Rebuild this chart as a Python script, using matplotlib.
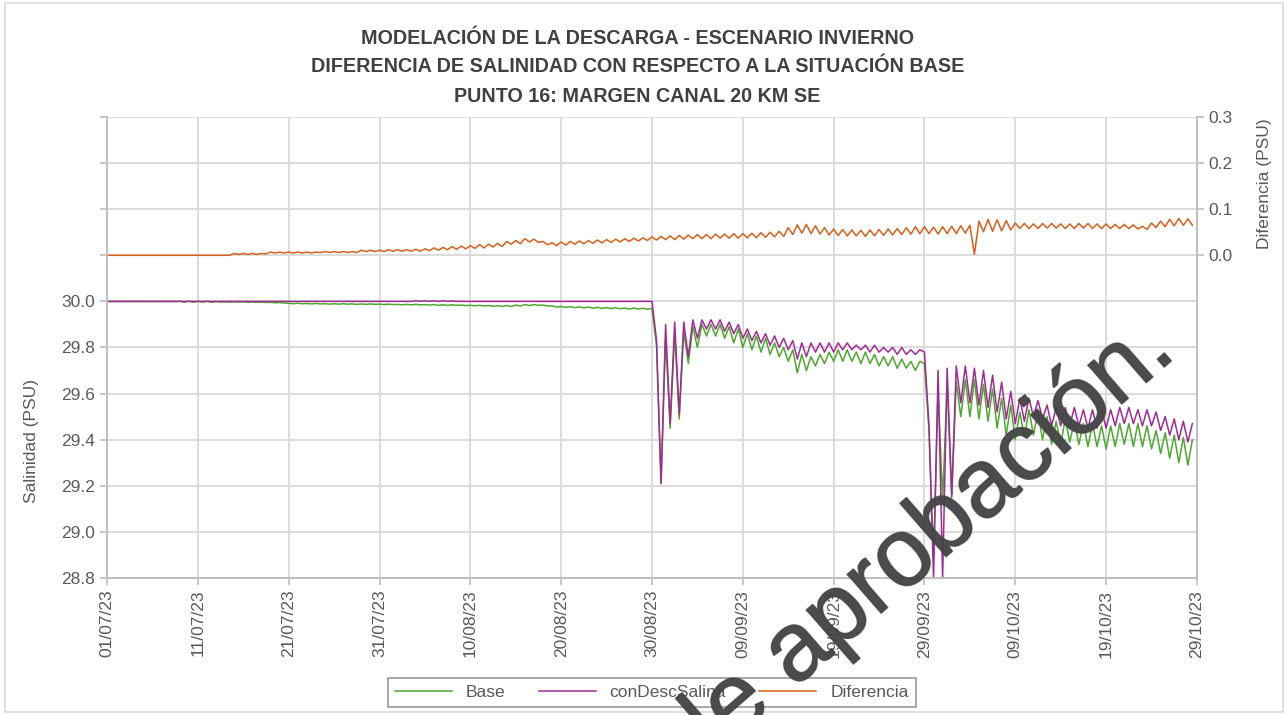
import pandas as pd
import matplotlib.pyplot as plt
import matplotlib.dates as mdates
import matplotlib.patheffects as pe
from matplotlib.patches import Rectangle

plt.rcParams['font.family'] = ['Liberation Sans', 'DejaVu Sans']

# Serie cada 12 h desde 01/07/23 (PSU)
inicio = '2023-07-01'

base = [
    30.000, 29.999, 30.000, 29.999, 30.000, 29.999, 30.000, 29.999, 30.000, 29.999, 30.000, 29.999, 30.000, 29.999, 30.000, 29.999, 30.001, 29.996, 30.001, 29.996,
    30.001, 29.996, 30.001, 29.996, 29.999, 29.997, 29.998, 29.997, 29.998, 29.997, 29.998, 29.996, 29.998, 29.996, 29.997, 29.995, 29.996, 29.994, 29.995, 29.993,
    29.992, 29.990, 29.992, 29.990, 29.991, 29.989, 29.991, 29.989, 29.990, 29.988, 29.990, 29.988, 29.990, 29.988, 29.989, 29.987, 29.989, 29.987, 29.989, 29.987,
    29.988, 29.986, 29.988, 29.986, 29.987, 29.985, 29.987, 29.985, 29.987, 29.985, 29.986, 29.984, 29.986, 29.983, 29.985, 29.983, 29.985, 29.983, 29.984, 29.982,
    29.983, 29.981, 29.983, 29.980, 29.982, 29.979, 29.981, 29.978, 29.982, 29.978, 29.984, 29.980, 29.986, 29.982, 29.986, 29.983, 29.984, 29.980, 29.980, 29.976,
    29.978, 29.974, 29.977, 29.973, 29.976, 29.972, 29.975, 29.971, 29.974, 29.970, 29.973, 29.969, 29.972, 29.968, 29.971, 29.967, 29.971, 29.967, 29.970, 29.966,
    29.97, 29.81, 29.21, 29.84, 29.45, 29.86, 29.49, 29.87, 29.73, 29.89,
    29.80, 29.90, 29.85, 29.90, 29.85, 29.90, 29.84, 29.89, 29.82, 29.88,
    29.80, 29.86, 29.79, 29.85, 29.78, 29.84, 29.77, 29.82, 29.76, 29.80,
    29.74, 29.79, 29.69, 29.77, 29.70, 29.76, 29.72, 29.77, 29.73, 29.78,
    29.74, 29.79, 29.74, 29.79, 29.74, 29.78, 29.73, 29.78, 29.73, 29.77,
    29.72, 29.76, 29.72, 29.76, 29.71, 29.75, 29.71, 29.74, 29.70, 29.74,
    29.73, 29.44, 28.89, 29.62, 29.14, 29.64, 29.16, 29.65, 29.50, 29.66,
    29.50, 29.66, 29.49, 29.64, 29.48, 29.62, 29.45, 29.58, 29.42, 29.55,
    29.40, 29.52, 29.41, 29.53, 29.42, 29.52, 29.40, 29.50, 29.38, 29.48,
    29.38, 29.49, 29.39, 29.48, 29.38, 29.47, 29.37, 29.47, 29.37, 29.46,
    29.36, 29.46, 29.37, 29.47, 29.38, 29.47, 29.37, 29.47, 29.37, 29.46,
    29.36, 29.44, 29.34, 29.43, 29.32, 29.42, 29.30, 29.41, 29.29, 29.40,
]

con_desc = [
    30.000, 30.000, 30.000, 30.000, 30.000, 30.000, 30.000, 30.000, 30.000, 30.000, 30.000, 30.000, 30.000, 30.000, 30.000, 30.000, 30.000, 30.000, 30.000, 30.000,
    30.000, 30.000, 30.000, 30.000, 30.000, 30.000, 30.000, 30.000, 30.000, 30.000, 30.000, 30.000, 30.000, 30.000, 30.000, 30.000, 30.000, 30.000, 30.000, 30.000,
    30.000, 30.000, 30.000, 30.000, 30.000, 30.000, 30.000, 30.000, 30.000, 30.000, 30.000, 30.000, 30.000, 30.000, 30.000, 30.000, 30.000, 30.000, 30.000, 30.000,
    30.000, 30.000, 30.000, 30.000, 30.000, 30.000, 30.000, 30.000, 30.003, 30.000, 30.003, 30.000, 30.003, 30.000, 30.003, 30.000, 30.002, 30.000, 30.000, 30.000,
    30.000, 30.000, 30.000, 30.000, 30.000, 30.000, 30.000, 30.000, 30.000, 30.000, 30.000, 30.000, 30.000, 30.000, 30.000, 30.000, 30.000, 30.000, 30.000, 30.000,
    30.000, 30.000, 30.000, 30.000, 30.000, 30.000, 30.000, 30.000, 30.000, 30.000, 30.000, 30.000, 30.000, 30.000, 30.000, 30.000, 30.000, 30.000, 30.000, 30.000,
    30.00, 29.83, 29.21, 29.90, 29.47, 29.91, 29.51, 29.91, 29.76, 29.92,
    29.84, 29.92, 29.88, 29.92, 29.88, 29.92, 29.87, 29.91, 29.86, 29.90,
    29.84, 29.88, 29.83, 29.87, 29.82, 29.86, 29.81, 29.85, 29.80, 29.84,
    29.79, 29.83, 29.75, 29.82, 29.76, 29.82, 29.78, 29.82, 29.78, 29.82,
    29.78, 29.82, 29.79, 29.82, 29.79, 29.81, 29.79, 29.81, 29.78, 29.81,
    29.78, 29.80, 29.78, 29.80, 29.77, 29.80, 29.77, 29.79, 29.77, 29.79,
    29.78, 29.46, 28.80, 29.70, 28.80, 29.71, 29.15, 29.72, 29.56, 29.72,
    29.56, 29.71, 29.55, 29.70, 29.54, 29.68, 29.52, 29.65, 29.49, 29.61,
    29.47, 29.58, 29.48, 29.58, 29.50, 29.57, 29.49, 29.55, 29.46, 29.54,
    29.46, 29.54, 29.46, 29.54, 29.46, 29.53, 29.45, 29.53, 29.45, 29.53,
    29.45, 29.53, 29.46, 29.54, 29.47, 29.54, 29.47, 29.53, 29.46, 29.53,
    29.46, 29.52, 29.44, 29.50, 29.42, 29.49, 29.40, 29.48, 29.39, 29.47,
]

diferencia = [
    0.000, 0.000, 0.000, 0.000, 0.000, 0.000, 0.000, 0.000, 0.000, 0.000, 0.000, 0.000, 0.000, 0.000, 0.000, 0.000, 0.000, 0.000, 0.000, 0.000,
    0.000, 0.000, 0.000, 0.000, 0.000, 0.000, 0.000, 0.000, 0.004, 0.002, 0.004, 0.002, 0.004, 0.002, 0.004, 0.003, 0.007, 0.005, 0.007, 0.005,
    0.007, 0.005, 0.007, 0.005, 0.007, 0.005, 0.007, 0.006, 0.008, 0.006, 0.008, 0.006, 0.008, 0.006, 0.008, 0.006, 0.011, 0.008, 0.011, 0.008,
    0.011, 0.008, 0.012, 0.009, 0.012, 0.009, 0.012, 0.009, 0.013, 0.009, 0.014, 0.010, 0.016, 0.011, 0.017, 0.012, 0.019, 0.013, 0.020, 0.014,
    0.021, 0.015, 0.023, 0.016, 0.024, 0.018, 0.026, 0.019, 0.030, 0.024, 0.032, 0.025, 0.036, 0.029, 0.035, 0.028, 0.030, 0.023, 0.027, 0.021,
    0.029, 0.022, 0.030, 0.024, 0.031, 0.025, 0.032, 0.026, 0.033, 0.027, 0.034, 0.028, 0.035, 0.029, 0.036, 0.030, 0.037, 0.031, 0.038, 0.032,
    0.040, 0.033, 0.041, 0.034, 0.042, 0.034, 0.043, 0.035, 0.044, 0.036, 0.045, 0.036, 0.045, 0.036, 0.046, 0.037, 0.046, 0.037, 0.047, 0.037,
    0.047, 0.038, 0.048, 0.038, 0.049, 0.039, 0.050, 0.040, 0.052, 0.041, 0.060, 0.045, 0.066, 0.048, 0.067, 0.047, 0.064, 0.046, 0.060, 0.044,
    0.057, 0.043, 0.056, 0.042, 0.055, 0.042, 0.054, 0.041, 0.055, 0.042, 0.056, 0.043, 0.057, 0.044, 0.058, 0.045, 0.060, 0.046, 0.062, 0.047,
    0.062, 0.047, 0.061, 0.046, 0.062, 0.047, 0.063, 0.047, 0.064, 0.048, 0.065, 0.002, 0.074, 0.051, 0.078, 0.052, 0.077, 0.053, 0.075, 0.055,
    0.070, 0.058, 0.069, 0.058, 0.068, 0.058, 0.069, 0.059, 0.069, 0.059, 0.068, 0.058, 0.068, 0.058, 0.069, 0.059, 0.069, 0.058, 0.068, 0.058,
    0.068, 0.058, 0.067, 0.058, 0.067, 0.058, 0.066, 0.057, 0.063, 0.056, 0.070, 0.060, 0.074, 0.062, 0.078, 0.064, 0.080, 0.065, 0.079, 0.065,
]

fechas = pd.date_range(inicio, periods=len(base), freq='12h')
fechas_ticks = pd.date_range('2023-07-01', '2023-10-29', freq='10D')

sal_ticks = [28.8, 29.0, 29.2, 29.4, 29.6, 29.8, 30.0, 30.2, 30.4, 30.6, 30.8]
dif_ticks = [0.0, 0.1, 0.2, 0.3]

titulos = ['MODELACIÓN DE LA DESCARGA - ESCENARIO INVIERNO',
           'DIFERENCIA DE SALINIDAD CON RESPECTO A LA SITUACIÓN BASE',
           'PUNTO 16: MARGEN CANAL 20 KM SE']

gris_txt = '#595959'
gris_eje = '#bfbfbf'
gris_grid = '#d9d9d9'

fig = plt.figure(figsize=(12.88, 7.15), dpi=100)
ax = fig.add_axes([0.0831, 0.1916, 0.8462, 0.6448])
ax2 = ax.twinx()

l1, = ax.plot(fechas, base, color='#4ea72e', lw=1.1, label='Base')
l2, = ax.plot(fechas, con_desc, color='#a02b93', lw=1.1, label='conDescSalina')
l3, = ax2.plot(fechas, diferencia, color='#d5601c', lw=1.1, label='Diferencia')

ax.set_xlim(pd.Timestamp('2023-07-01'), pd.Timestamp('2023-10-29'))
ax.set_ylim(28.8, 30.8)
ax2.set_ylim(-0.7, 0.3)

ax.set_yticks(sal_ticks)
ax.set_yticklabels([f'{v:.1f}' if v <= 30.0 else '' for v in sal_ticks])
ax2.set_yticks(dif_ticks)
ax2.set_yticklabels([f'{v:.1f}' for v in dif_ticks])

ax.set_xticks(fechas_ticks)
ax.xaxis.set_major_formatter(mdates.DateFormatter('%d/%m/%y'))
for lbl in ax.get_xticklabels():
    lbl.set_rotation(90)

ax.grid(True, color=gris_grid, lw=1.3)
ax.set_axisbelow(True)

for a in (ax, ax2):
    a.spines['top'].set_visible(False)
    for s in ('left', 'right', 'bottom'):
        a.spines[s].set_color(gris_eje)
        a.spines[s].set_linewidth(1.2)
    a.tick_params(colors=gris_eje, labelcolor=gris_txt, labelsize=12.5, length=5, width=1.2)

ax.set_ylabel('Salinidad (PSU)', color=gris_txt, fontsize=12.5)
ax.yaxis.set_label_coords(-0.062, 0.297)
ax2.set_ylabel('Diferencia (PSU)', color=gris_txt, fontsize=12.5)
ax2.yaxis.set_label_coords(1.055, 0.855)

# titulo en tres lineas
for i, t in enumerate(titulos):
    fig.text(0.495, 1 - (38 + 29 * i) / 715, t, ha='center', va='center', fontsize=14.2,
             fontweight='bold', color='#404040')

leg = fig.legend(handles=[l1, l2, l3], loc='center', bbox_to_anchor=(0.506, 0.032),
                 ncol=3, fontsize=12.5, frameon=True, fancybox=False,
                 handlelength=3.3, columnspacing=1.9, borderpad=0.4, borderaxespad=0)
leg.get_frame().set_edgecolor('#7f7f7f')
leg.get_frame().set_linewidth(1.2)
for t in leg.get_texts():
    t.set_color(gris_txt)

# marco exterior del gráfico
fig.patches.append(Rectangle((0.004, 0.004), 0.992, 0.992, transform=fig.transFigure,
                             fill=False, edgecolor=gris_grid, lw=1.2))

# marca de agua
fig.text(0.9146, 0.5035, 'de aprobación.', fontsize=70, color='#454545', alpha=0.8,
         rotation=41, rotation_mode='anchor', ha='right', va='baseline', zorder=10,
         path_effects=[pe.withStroke(linewidth=1.2, foreground='#454545', alpha=0.8)])

fig.savefig('out.png', dpi=100)
